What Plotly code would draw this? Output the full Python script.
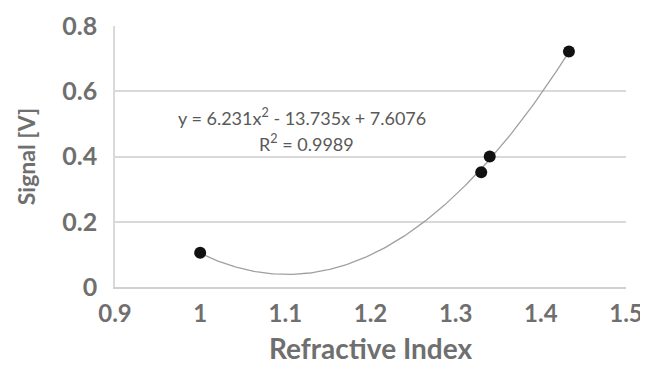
import numpy as np
import plotly.graph_objects as go

# Data
refractive_index = [1.0, 1.33, 1.34, 1.433]
signal_v = [0.105, 0.352, 0.400, 0.722]

# Trendline coefficients (as printed on the chart)
coef_a, coef_b, coef_c = 6.231, -13.735, 7.6076
r_squared = 0.9989

x_ticks = [0.9, 1.0, 1.1, 1.2, 1.3, 1.4, 1.5]
x_tick_text = ["0.9", "1", "1.1", "1.2", "1.3", "1.4", "1.5"]
y_ticks = [0, 0.2, 0.4, 0.6, 0.8]
y_tick_text = ["0", "0.2", "0.4", "0.6", "0.8"]

xt = np.linspace(min(refractive_index), max(refractive_index), 200)
yt = coef_a * xt**2 + coef_b * xt + coef_c

FONT = "Lato"
GREY = "#6f6f6f"

fig = go.Figure()
fig.add_trace(go.Scatter(x=xt, y=yt, mode="lines",
                         line=dict(color="#a0a0a0", width=1.3),
                         hoverinfo="skip", showlegend=False))
fig.add_trace(go.Scatter(x=refractive_index, y=signal_v, mode="markers",
                         marker=dict(color="#111111", size=12),
                         showlegend=False))

eq_line1 = f"y = {coef_a}x<sup>2</sup> - {abs(coef_b)}x + {coef_c}"
eq_line2 = f"R<sup>2</sup> = {r_squared}"
fig.add_annotation(x=1.1195, y=0.52, xref="x", yref="y", text=eq_line1,
                   showarrow=False, font=dict(family=FONT, size=18, color="#595959"))
fig.add_annotation(x=1.125, y=0.44, xref="x", yref="y", text=eq_line2,
                   showarrow=False, font=dict(family=FONT, size=18, color="#595959"))

# page body has an 8px default margin, so the figure is sized to fit the window
fig.update_layout(
    width=640, height=359,
    margin=dict(l=107, r=22, t=18, b=80, autoexpand=False),
    plot_bgcolor="white", paper_bgcolor="white",
    font=dict(family=FONT, color=GREY),
)
fig.update_xaxes(range=[0.9, 1.5], tickvals=x_ticks, ticktext=x_tick_text,
                 showgrid=False, zeroline=False, automargin=False,
                 showline=True, linecolor="#d0d0d0", linewidth=1.5,
                 ticks="", ticklabelstandoff=4,
                 tickfont=dict(family=FONT, size=24, color=GREY, weight="bold"),
                 title=dict(text="Refractive Index", standoff=14,
                            font=dict(family=FONT, size=28, color=GREY, weight="bold")))
fig.update_yaxes(range=[0, 0.8], tickvals=y_ticks, ticktext=y_tick_text,
                 showgrid=True, gridcolor="#d9d9d9", gridwidth=1.5,
                 zeroline=False, automargin=False,
                 showline=True, linecolor="#d9d9d9", linewidth=1.5,
                 ticks="", ticklabelstandoff=11,
                 tickfont=dict(family=FONT, size=25, color=GREY, weight="bold"),
                 title=dict(text="Signal [V]", standoff=20,
                            font=dict(family=FONT, size=23, color=GREY, weight="bold")))

fig.write_html("out.html")
